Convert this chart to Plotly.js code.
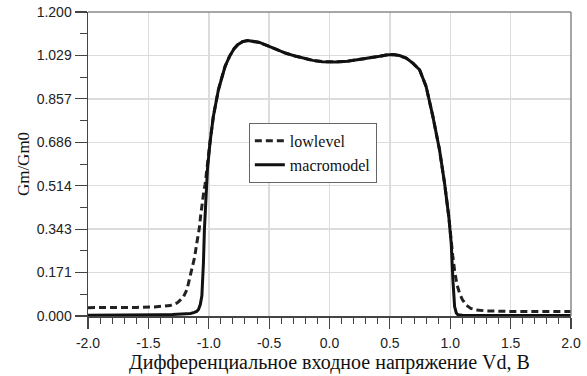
<!DOCTYPE html>
<html>
<head>
<meta charset="utf-8">
<script src="https://cdn.plot.ly/plotly-3.0.1.min.js"></script>
<style>
  html, body { margin: 0; padding: 0; background: #fff; }
  #chart { width: 587px; height: 376px; }
</style>
</head>
<body>
<div id="chart"></div>
<script>
// Normalised transconductance Gm/Gm0 versus differential input voltage Vd

// "lowlevel" model (dashed)
const lowlevelVd = [
  -2.00, -1.80, -1.60, -1.45, -1.38, -1.32, -1.26, -1.21, -1.18, -1.157,
  -1.135, -1.116, -1.10, -1.08, -1.066, -1.055, -1.039, -1.030, -1.018,
  -0.99, -0.962, -0.92, -0.897, -0.865, -0.828, -0.79, -0.76, -0.72, -0.677,
  -0.63, -0.58, -0.52, -0.44, -0.36, -0.276, -0.20, -0.138, -0.06, 0.055,
  0.15, 0.248, 0.33, 0.414, 0.47, 0.524, 0.58, 0.635, 0.69, 0.746, 0.80,
  0.856, 0.911, 0.953, 0.988, 1.008, 1.02, 1.036, 1.055, 1.077, 1.10,
  1.132, 1.17, 1.215, 1.30, 1.50, 2.00
];
const lowlevelGm = [
  0.033, 0.033, 0.034, 0.036, 0.038, 0.041, 0.052, 0.075, 0.105, 0.155,
  0.195, 0.234, 0.285, 0.340, 0.400, 0.445, 0.498, 0.520, 0.575,
  0.683, 0.788, 0.893, 0.933, 0.985, 1.025, 1.055, 1.071, 1.083, 1.087,
  1.085, 1.080, 1.068, 1.051, 1.037, 1.025, 1.015, 1.009, 1.004, 1.003,
  1.006, 1.012, 1.019, 1.025, 1.030, 1.032, 1.028, 1.018, 0.998, 0.972, 0.906,
  0.788, 0.656, 0.524, 0.392, 0.287, 0.240, 0.180, 0.125, 0.090, 0.065,
  0.043, 0.030, 0.024, 0.020, 0.018, 0.018
];

// "macromodel" (solid)
const macroVd = [
  -2.00, -1.80, -1.60, -1.40, -1.30, -1.20, -1.15, -1.12, -1.10, -1.085,
  -1.07, -1.057, -1.050, -1.044, -1.036, -1.024, -1.011, -0.99, -0.962,
  -0.92, -0.897, -0.865, -0.828, -0.79, -0.76, -0.72, -0.677, -0.63, -0.58,
  -0.52, -0.44, -0.36, -0.276, -0.20, -0.138, -0.06, 0.055, 0.15, 0.248,
  0.33, 0.414, 0.47, 0.524, 0.58, 0.635, 0.69, 0.746, 0.80, 0.856, 0.911,
  0.953, 0.988, 1.008, 1.022, 1.036, 1.05, 1.063, 1.10, 1.30, 2.00
];
const macroGm = [
  0.003, 0.003, 0.004, 0.005, 0.006, 0.008, 0.010, 0.014, 0.018, 0.026,
  0.045, 0.080, 0.130, 0.210, 0.340, 0.470, 0.577, 0.683, 0.788,
  0.893, 0.933, 0.985, 1.025, 1.055, 1.071, 1.083, 1.087, 1.085, 1.080,
  1.068, 1.051, 1.037, 1.025, 1.015, 1.009, 1.004, 1.003, 1.006, 1.012,
  1.019, 1.025, 1.030, 1.032, 1.028, 1.018, 0.998, 0.972, 0.906, 0.788, 0.656,
  0.524, 0.392, 0.287, 0.142, 0.037, 0.012, 0.005, 0.003, 0.002, 0.002
];

// Y axis is divided into sevenths of 1.2
const yTickVals = [0, 0.1714, 0.3429, 0.5143, 0.6857, 0.8571, 1.0286, 1.2];
const yTickText = ['0.000', '0.171', '0.343', '0.514', '0.686', '0.857', '1.029', '1.200'];
const yMinorVals = [0.0857, 0.2571, 0.4286, 0.6, 0.7714, 0.9429, 1.1143];
const xTickVals = [-2.0, -1.5, -1.0, -0.5, 0.0, 0.5, 1.0, 1.5, 2.0];
const xTickText = ['-2.0', '-1.5', '-1.0', '-0.5', '0.0', '0.5', '1.0', '1.5', '2.0'];

const serif = 'Liberation Serif, Times New Roman, serif';
const sans = 'Liberation Sans, Arial, sans-serif';

const traces = [
  {
    x: lowlevelVd, y: lowlevelGm, name: 'lowlevel', mode: 'lines',
    line: { color: '#222', width: 3, dash: '7px,4px' }
  },
  {
    x: macroVd, y: macroGm, name: 'macromodel', mode: 'lines',
    line: { color: '#111', width: 3 }
  }
];

const layout = {
  width: 587, height: 376,
  margin: { l: 88, r: 16, t: 12, b: 60 },
  paper_bgcolor: '#fff', plot_bgcolor: '#fff',
  showlegend: true,
  legend: {
    x: 0.333, y: 0.635, xanchor: 'left', yanchor: 'top',
    bgcolor: '#fff', bordercolor: '#666', borderwidth: 1,
    font: { family: serif, size: 16, color: '#111' },
    tracegroupgap: 0
  },
  xaxis: {
    range: [-2, 2], tickmode: 'array', tickvals: xTickVals, ticktext: xTickText,
    ticks: 'outside', ticklen: 11, tickwidth: 1.2, tickcolor: '#444',
    showline: true, linecolor: '#444', linewidth: 1.5, zeroline: false,
    showgrid: true, gridcolor: '#dcdcdc', gridwidth: 1.5,
    tickfont: { family: sans, size: 14, color: '#222' },
    ticklabelstandoff: 3,
    minor: { dtick: 0.1, ticks: 'outside', ticklen: 6, tickwidth: 1, tickcolor: '#444', showgrid: false },
    title: {
      text: 'Дифференциальное входное напряжение Vd, В',
      font: { family: serif, size: 20, color: '#111' }, standoff: 4
    }
  },
  yaxis: {
    range: [0, 1.2], tickmode: 'array', tickvals: yTickVals, ticktext: yTickText,
    ticks: 'outside', ticklen: 12, tickwidth: 1.2, tickcolor: '#444',
    showline: true, linecolor: '#444', linewidth: 1.5, zeroline: false,
    showgrid: true, gridcolor: '#dcdcdc', gridwidth: 1.5,
    tickfont: { family: sans, size: 14, color: '#222' },
    minor: { tickvals: yMinorVals, ticks: 'outside', ticklen: 7, tickwidth: 1, tickcolor: '#444', showgrid: false },
    title: {
      text: 'Gm/Gm0',
      font: { family: serif, size: 17, color: '#111' }, standoff: 2
    }
  },
  shapes: [
    { type: 'line', xref: 'paper', yref: 'paper', x0: 0, x1: 1, y0: 1, y1: 1,
      line: { color: '#888', width: 1.5 } },
    { type: 'line', xref: 'paper', yref: 'paper', x0: 1, x1: 1, y0: 0, y1: 1,
      line: { color: '#888', width: 1.5 } }
  ]
};

Plotly.newPlot('chart', traces, layout, { displayModeBar: false, staticPlot: true });
</script>
</body>
</html>
